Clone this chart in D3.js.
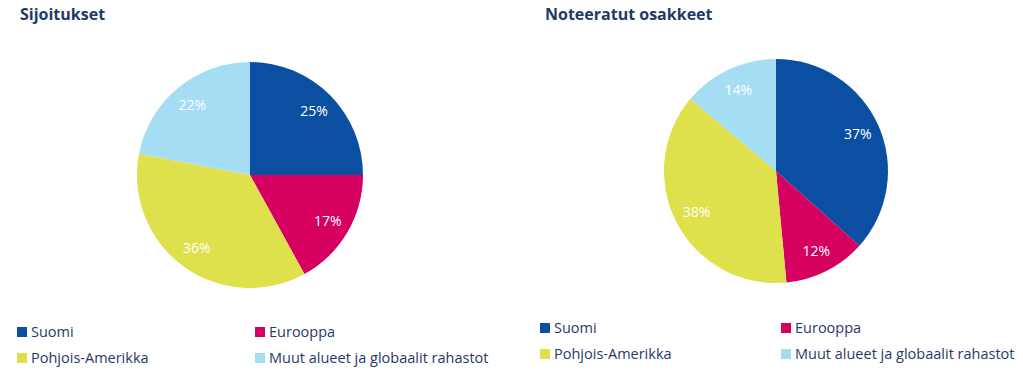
<!DOCTYPE html>
<html>
<head>
<meta charset="utf-8">
<script src="https://cdn.jsdelivr.net/npm/d3@7"></script>
<style>
  body { margin: 0; background: #fff; }
  text { font-family: "Open Sans", "Noto Sans", sans-serif; }
</style>
</head>
<body>
<div id="chart"></div>
<script>
// data
let categories = ['Suomi', 'Eurooppa', 'Pohjois-Amerikka', 'Muut alueet ja globaalit rahastot'];
let colors = ['#0b4fa3', '#d5005f', '#dee14c', '#a5ddf4'];
let titles = ['Sijoitukset', 'Noteeratut osakkeet'];
let sijoitukset = [25, 17, 36, 22];
let osakkeet = [37, 12, 38, 14];

let svgWidth = 1023;
let svgHeight = 372;

let svg = d3.select('#chart')
  .append('svg')
  .attr('width', svgWidth)
  .attr('height', svgHeight);

let color = d3.scaleOrdinal().domain(categories).range(colors);

// one block per pie: title, pie, legend
let panels = [
  { title: titles[0], values: sijoitukset, tx: 20, cx: 250, cy: 175, r: 113, lx: 17, ly: 327, col2: 238 },
  { title: titles[1], values: osakkeet, tx: 545, cx: 776, cy: 171, r: 112, lx: 540, ly: 323, col2: 241 }
];

let pie = d3.pie().sort(null).value(d => d.value);

panels.forEach(p => {
  let data = categories.map((c, i) => ({ name: c, value: p.values[i] }));

  svg.append('text')
    .attr('x', p.tx)
    .attr('y', 20)
    .attr('fill', '#1f3a68')
    .attr('font-size', '16px')
    .attr('font-weight', 'bold')
    .text(p.title);

  let g = svg.append('g')
    .attr('transform', `translate(${p.cx},${p.cy})`);

  let arc = d3.arc().innerRadius(0).outerRadius(p.r);
  let labelArc = d3.arc().innerRadius(p.r * 0.8).outerRadius(p.r * 0.8);

  g.selectAll('path')
    .data(pie(data))
    .enter()
    .append('path')
    .attr('d', arc)
    .attr('fill', d => color(d.data.name));

  g.selectAll('text')
    .data(pie(data))
    .enter()
    .append('text')
    .attr('transform', d => `translate(${labelArc.centroid(d)})`)
    .attr('text-anchor', 'middle')
    .attr('dy', '0.35em')
    .attr('fill', '#fff')
    .attr('font-size', '14px')
    .text(d => d.data.value + '%');

  // legend, 2 columns
  let legend = svg.append('g')
    .attr('transform', `translate(${p.lx},${p.ly})`);

  let items = legend.selectAll('g')
    .data(categories)
    .enter()
    .append('g')
    .attr('transform', (d, i) => `translate(${(i % 2) * p.col2},${Math.floor(i / 2) * 26})`);

  items.append('rect')
    .attr('width', 10)
    .attr('height', 10)
    .attr('fill', d => color(d));

  items.append('text')
    .attr('x', 14)
    .attr('y', 10)
    .attr('fill', '#1f3a68')
    .attr('font-size', '14.5px')
    .text(d => d);
});
</script>
</body>
</html>
